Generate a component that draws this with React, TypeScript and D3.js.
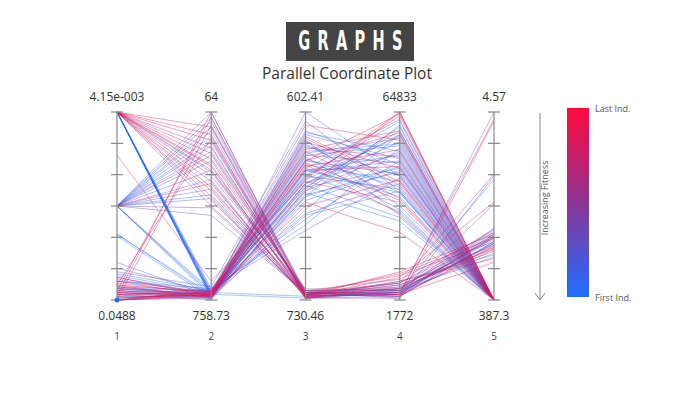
import React from 'react';
import * as d3 from 'd3';

const axisNames = ['1', '2', '3', '4', '5'];
const topLabels = ['4.15e-003', '64', '602.41', '64833', '4.57'];
const bottomLabels = ['0.0488', '758.73', '730.46', '1772', '387.3'];

// each row: place on axes 1..5 (0 = bottom label, 1 = top label), then order of the individual (0 = first, 1 = last)
const lowOnAxis2 = [
  [1, 0.02, 0.62, 0.78, 0, 0],
  [1, 0.03, 0.70, 0.55, 0, 0.01],
  [1, 0.01, 0.48, 0.88, 0, 0.01],
  [1, 0.04, 0.82, 0.66, 0, 0.02],
  [1, 0.02, 0.57, 0.42, 0, 0.02],
  [1, 0.05, 0.90, 0.72, 0, 0.03],
  [1, 0.03, 0.66, 0.95, 0, 0.03],
  [1, 0.02, 0.75, 0.60, 0, 0.04],
  [1, 0.06, 0.40, 0.81, 0, 0.04],
  [1, 0.01, 0.85, 0.50, 0, 0.05],
  [1, 0.04, 0.53, 0.69, 0, 0.05],
  [1, 0.03, 0.78, 0.86, 0, 0.06],
  [0.5, 0.03, 0.72, 0.63, 0, 0.02],
  [0.5, 0.05, 0.60, 0.90, 0, 0.04],
  [0.5, 0.02, 0.45, 0.58, 0, 0.06],
  [0.5, 0.04, 0.88, 0.75, 0, 0.15],
  [0.35, 0.02, 0.67, 0.47, 0, 0.01],
  [0.35, 0.03, 0.79, 0.83, 0, 0.03],
  [0.34, 0.01, 0.55, 0.71, 0, 0.08],
  [0.77, 0.1, 0.63, 0.52, 0, 0.7],
  [0.17, 0.04, 0.74, 0.67, 0, 0.3],
  [0.14, 0.05, 0.58, 0.92, 0, 0.1],
  [0.12, 0.02, 0.86, 0.61, 0, 0.62],
  [0.1, 0.06, 0.69, 0.77, 0, 0.12],
  [0.09, 0.03, 0.50, 0.64, 0, 0.85],
  [0.08, 0.04, 0.93, 0.85, 0, 0.92],
  [0.07, 0.02, 0.61, 0.44, 0, 0.05],
  [0.06, 0.05, 0.77, 0.73, 0, 0.4],
  [0.05, 0.03, 0.65, 0.98, 0, 0.95],
  [0.04, 0.01, 0.83, 0.57, 0, 0.03],
  [0.03, 0.04, 0.71, 0.80, 0, 0.88],
  [0.02, 0.02, 0.56, 0.68, 0, 0.2],
  [0.01, 0.03, 0.80, 0.90, 0, 0.98],
  [0, 0.02, 0.68, 0.74, 0, 0.07],
  [0, 0.04, 0.46, 0.62, 0, 0.45],
  [0, 0.01, 0.89, 0.79, 0, 0.12],
  [0, 0.03, 0.73, 0.53, 0, 0.9],
  [0, 0.05, 0.64, 0.87, 0, 0.02],
  [0.02, 0.06, 0.37, 0.65, 0, 0.35],
  [0.05, 0.02, 0.52, 0.36, 0, 0.83],
  [0.11, 0.03, 0.76, 0.48, 0, 0.09],
  [0.08, 0.01, 0.84, 0.70, 0, 0.7],
  [0.04, 0.02, 1.0, 0.66, 0, 0.18],
  [0.15, 0.07, 0.95, 0.58, 0, 0.25],
  [0.03, 0, 0.59, 1.0, 0, 0.97],
  [0.06, 0.03, 0.70, 0.96, 0, 0.16],
  [0.1, 0.02, 0.62, 0.84, 0, 0.04],
  [0.01, 0.04, 0.81, 0.76, 0, 0.76],
  [0.07, 0.05, 0.66, 0.59, 0, 0.1],
  [0, 0.02, 0.74, 0.89, 0, 0.99],
  [0.02, 0.01, 0.69, 0.57, 0, 0.01],
  [0.06, 0.02, 0.77, 0.82, 0, 0.05],
  [0, 0.03, 0.60, 0.70, 0, 0.07],
  [0.13, 0.04, 0.85, 0.45, 0, 0.02],
  [0.2, 0.02, 0.55, 0.93, 0, 0.04],
  [0.04, 0.05, 0.43, 0.74, 0, 0.08],
  [0.03, 0.02, 0.64, 1.0, 0, 0.72],
  [0.1, 0.04, 0.74, 0.99, 0, 0.8],
  [0.05, 0.01, 0.58, 0.79, 0, 0.66],
  [0.01, 0.03, 0.87, 0.63, 0, 0.93],
  [0.07, 0.02, 0.69, 0.71, 0, 0.78],
  [0, 0.05, 0.79, 0.54, 0, 0.86],
  [0.12, 0.03, 0.62, 0.88, 0, 0.6],
  [0.04, 0.02, 0.72, 0.46, 0, 0.96],
];

const highOnAxis2 = [
  [1, 0.92, 0.03, 0.05, 0.32, 0.7],
  [1, 0.85, 0.02, 0.08, 0.27, 0.8],
  [1, 0.78, 0.04, 0.03, 0.35, 0.6],
  [1, 0.72, 0.01, 0.10, 0.22, 0.9],
  [1, 0.66, 0.05, 0.06, 0.38, 0.55],
  [1, 0.60, 0.03, 0.02, 0.29, 0.75],
  [1, 0.55, 0.02, 0.12, 0.52, 0.85],
  [1, 0.50, 0.04, 0.04, 0.25, 0.45],
  [1, 0.88, 0.01, 0.07, 0.33, 0.95],
  [1, 0.81, 0.03, 0.09, 0.67, 0.65],
  [1, 0.69, 0.06, 0.05, 0.30, 0.5],
  [1, 0.58, 0.02, 0.03, 0.20, 0.88],
  [1, 0.75, 0.05, 0.11, 0.36, 0.78],
  [1, 0.63, 0.01, 0.01, 0.95, 0.72],
  [1, 0.53, 0.03, 0.06, 0.28, 0.62],
  [0.5, 1.0, 0.02, 0.04, 0.34, 0.1],
  [0.5, 0.95, 0.04, 0.07, 0.26, 0.14],
  [0.5, 0.90, 0.01, 0.02, 0.31, 0.06],
  [0.5, 0.84, 0.03, 0.09, 0.37, 0.2],
  [0.5, 0.79, 0.05, 0.05, 0.23, 0.25],
  [0.5, 0.74, 0.02, 0.03, 0.51, 0.12],
  [0.5, 0.69, 0.03, 0.08, 0.29, 0.3],
  [0.5, 0.64, 0.01, 0.06, 0.35, 0.08],
  [0.5, 0.59, 0.04, 0.01, 0.66, 0.22],
  [0.5, 0.54, 0.02, 0.10, 0.24, 0.16],
  [0.5, 0.49, 0.03, 0.04, 0.30, 0.35],
  [0.5, 0.97, 0.05, 0.03, 1.0, 0.28],
  [0.5, 0.87, 0.02, 0.05, 0.33, 0.04],
  [0.5, 0.45, 0.04, 0.02, 0.38, 0.32],
  [0.02, 1.0, 0.03, 0.06, 0.28, 0.75],
  [0.05, 0.97, 0.01, 0.04, 0.96, 0.82],
  [0, 0.93, 0.04, 0.09, 0.34, 0.68],
  [0.08, 0.86, 0.02, 0.03, 0.27, 0.9],
  [0.5, 0.62, 0.03, 0.14, 0.33, 0.86],
  [1, 0.71, 0.02, 0.15, 0.35, 0.92],
  [0.5, 0.77, 0.04, 0.13, 0.31, 0.6],
  [0.5, 0.82, 0.02, 0.04, 0.30, 0.03],
  [0.5, 0.56, 0.03, 0.06, 0.36, 0.05],
  [1, 0.68, 0.04, 0.02, 0.31, 0.3],
  [0.5, 0.92, 0.01, 0.05, 0.64, 0.09],
  [0.03, 0.04, 0.02, 0.03, 0.34, 0.01],
  [0.06, 0.03, 0.01, 0.04, 0.33, 0.03],
];

const W = 700;
const H = 394;

const x = d3.scalePoint<string>().domain(axisNames).range([117, 494]);
const y = d3.scaleLinear().domain([0, 1]).range([300, 112]);
const tickValues = [0, 1 / 6, 2 / 6, 3 / 6, 4 / 6, 5 / 6, 1];
const color = d3
  .scaleLinear<string>()
  .domain([0, 0.5, 1])
  .range(['#1f6fff', '#8c3494', '#ff0a3c'])
  .interpolate(d3.interpolateRgb);

const line = d3
  .line<number>()
  .x((_, i) => x(axisNames[i]) as number)
  .y(d => y(d));

const individuals = [...lowOnAxis2, ...highOnAxis2].sort((a, b) => a[5] - b[5]);

const font = "'Open Sans', 'Noto Sans', sans-serif";

const App: React.FC = () => {
  return (
    <svg
      width={W}
      height={H}
      viewBox={`0 0 ${W} ${H}`}
      style={{ position: 'absolute', left: 0, top: 0, background: '#fff' }}
      fontFamily={font}
    >
      <defs>
        <linearGradient id="fitness" x1="0" y1="0" x2="0" y2="1">
          <stop offset="0%" stopColor={color(1)} />
          <stop offset="50%" stopColor={color(0.5)} />
          <stop offset="100%" stopColor={color(0)} />
        </linearGradient>
      </defs>

      {/* header */}
      <rect x={286} y={22} width={128} height={39} fill="#444" />
      <text
        transform="translate(354,50) scale(0.56,1)"
        textAnchor="middle"
        fill="#fff"
        fontSize={26}
        fontWeight="bold"
        letterSpacing={13}
        fontFamily="'DejaVu Sans', sans-serif"
      >
        GRAPHS
      </text>
      <text x={347} y={79} textAnchor="middle" fontSize={15.5} fill="#333">
        Parallel Coordinate Plot
      </text>

      {/* individuals */}
      <g fill="none" strokeWidth={1} strokeOpacity={0.4}>
        {individuals.map((d, i) => (
          <path key={`ind-${i}`} d={line(d.slice(0, 5)) ?? ''} stroke={color(d[5])} />
        ))}
      </g>

      {/* axes */}
      {axisNames.map((name, i) => {
        const ax = x(name) as number;
        return (
          <g key={`axis-${name}`}>
            <line x1={ax} x2={ax} y1={y(0)} y2={y(1)} stroke="#888" strokeWidth={1.2} />
            {tickValues.map((t, j) => (
              <line key={j} x1={ax - 6} x2={ax + 6} y1={y(t)} y2={y(t)} stroke="#888" strokeWidth={1.2} />
            ))}
            <text x={ax} y={101} textAnchor="middle" fontSize={12} fill="#333">
              {topLabels[i]}
            </text>
            <text x={ax} y={320} textAnchor="middle" fontSize={12} fill="#333">
              {bottomLabels[i]}
            </text>
            <text x={ax} y={340} textAnchor="middle" fontSize={10} fill="#444">
              {name}
            </text>
          </g>
        );
      })}
      <circle cx={x('1') as number} cy={y(0)} r={2.5} fill={color(0)} />

      {/* legend */}
      <line x1={540} x2={540} y1={113} y2={300} stroke="#888" strokeWidth={1} />
      <polyline points="535,293 540,300 545,293" fill="none" stroke="#888" strokeWidth={1} />
      <text transform="translate(548,198) rotate(-90)" textAnchor="middle" fontSize={9} fill="#555">
        Increasing Fitness
      </text>
      <rect x={567} y={108} width={22} height={189} fill="url(#fitness)" />
      <text x={595} y={112} fontSize={9} fill="#555">
        Last Ind.
      </text>
      <text x={595} y={301} fontSize={9} fill="#555">
        First Ind.
      </text>
    </svg>
  );
};

export default App;
